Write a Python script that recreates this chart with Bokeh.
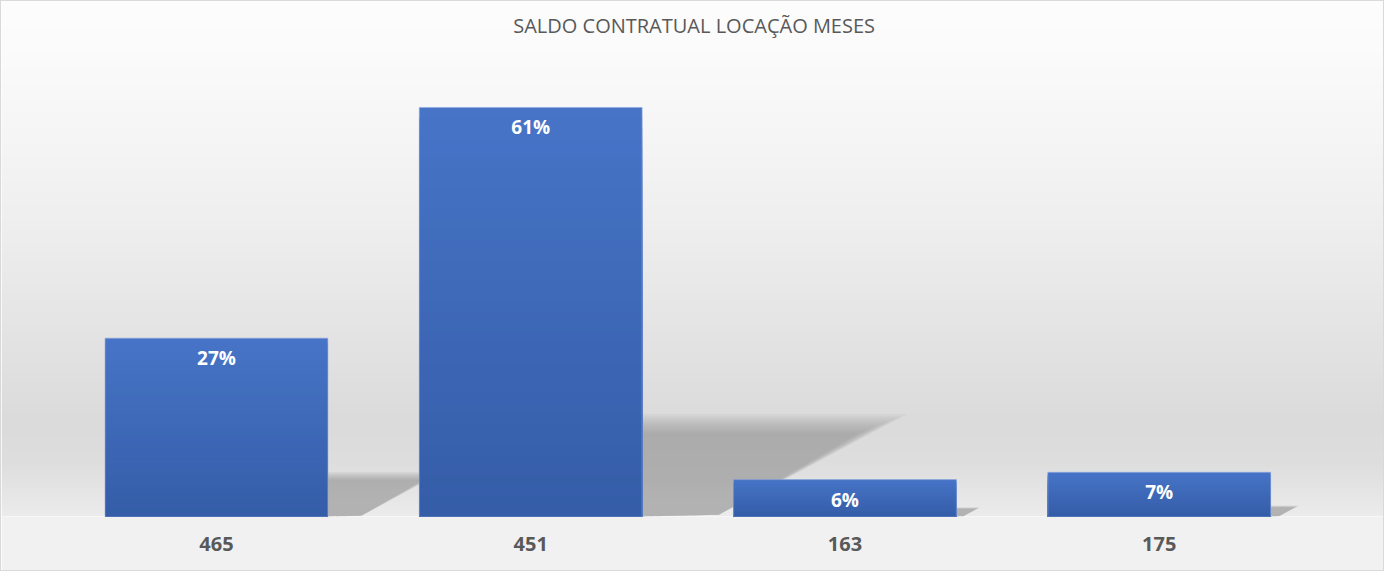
import numpy as np
from bokeh.plotting import figure
from bokeh.models import Range1d, FixedTicker, Label
from bokeh.embed import file_html
from bokeh.resources import INLINE
from bokeh.core.properties import value

# ---- data ----
categories = ["465", "451", "163", "175"]
shares = [26.6, 61.0, 5.5, 6.6]          # percent (bar heights)
share_labels = ["27%", "61%", "6%", "7%"]
title_text = "SALDO CONTRATUAL LOCAÇÃO MESES"

# ---- layout ----
W, H = 1384, 571
BOTTOM = 56
y_end = max(shares) * 1.259
x_start, x_end = -0.684, 3.72
bar_w = 0.709

p = figure(width=W, height=H, output_backend="svg", toolbar_location=None,
           x_range=Range1d(x_start, x_end), y_range=Range1d(0, y_end),
           min_border_left=0, min_border_right=0, min_border_top=0,
           min_border_bottom=BOTTOM)
p.styles = {"border": "1px solid #d9d9d9", "box-sizing": "border-box"}
p.border_fill_color = "#f1f1f1"
p.outline_line_color = None
p.grid.visible = False
p.yaxis.visible = False

# background gradient (style only)
stops_y = np.array([0, 52, 142, 242, 342, 422, 462, 515]) / 515.0   # from top
stops_g = np.array([253, 251, 245, 237, 227, 219, 222, 236])
rows = 400
t = np.linspace(0, 1, rows)[::-1]      # row 0 at bottom => t=1 (bottom of frame)
g = np.interp(t, stops_y, stops_g).astype(np.uint32)
img = np.empty((rows, 1), dtype=np.uint32)
view = img.view(dtype=np.uint8).reshape((rows, 1, 4))
view[:, 0, 0] = g
view[:, 0, 1] = g
view[:, 0, 2] = g
view[:, 0, 3] = 255
p.image_rgba(image=[img], x=x_start, y=0, dw=x_end - x_start, dh=y_end)

xs = np.arange(len(categories), dtype=float)
vals = np.array(shares, dtype=float)

# soft shadows (derived from bar heights), many faint layers
layers = np.linspace(1.10, 0.90, 9)
for s in layers:
    sx, sy = [], []
    for x, v in zip(xs, vals):
        r = x + bar_w / 2
        h = 0.228 * v * s
        sx.append([r, r, r + 0.01258 * v * s, r + 0.004 * v])
        sy.append([0, h, h, 0.004 * v])
    p.patches(sx, sy, fill_color="#8c8c8c", fill_alpha=0.085, line_color=None)

# bars with vertical gradient (overlapping layers, drawn tallest first)
n = 40
top_c = np.array([0x47, 0x74, 0xc7])
bot_c = np.array([0x35, 0x5d, 0xa8])
for k in range(n, 0, -1):
    f = (k - 1) / (n - 1)
    c = bot_c + (top_c - bot_c) * f
    col = "#%02x%02x%02x" % tuple(int(round(cc)) for cc in c)
    p.vbar(x=xs, top=vals * k / n, bottom=0, width=bar_w,
           fill_color=col, line_color=None)
p.vbar(x=xs, top=vals, width=bar_w, fill_color=None,
       line_color="#8fa9dc", line_alpha=0.6, line_width=1)

# value labels
p.text(x=xs, y=vals, text=share_labels, text_align="center", text_baseline="top",
       y_offset=7, text_color="white", text_font=value("Open Sans"),
       text_font_style="bold", text_font_size="19px")

# title
p.add_layout(Label(x=(len(categories) - 1) / 2 + 0.02, y=y_end - 3.55, text=title_text,
                   text_align="center", text_baseline="middle",
                   text_font="Open Sans", text_font_size="20px",
                   text_color="#595959"))

# x axis
p.xaxis.ticker = FixedTicker(ticks=list(xs))
p.xaxis.major_label_overrides = {i: c for i, c in enumerate(categories)}
p.xaxis.axis_line_color = None
p.xaxis.major_tick_line_color = None
p.xaxis.minor_tick_line_color = None
p.xaxis.major_label_standoff = 14
p.xaxis.major_label_text_font = "Open Sans"
p.xaxis.major_label_text_font_style = "bold"
p.xaxis.major_label_text_font_size = "20px"
p.xaxis.major_label_text_color = "#595959"

open("out.html", "w").write(file_html(p, INLINE))
